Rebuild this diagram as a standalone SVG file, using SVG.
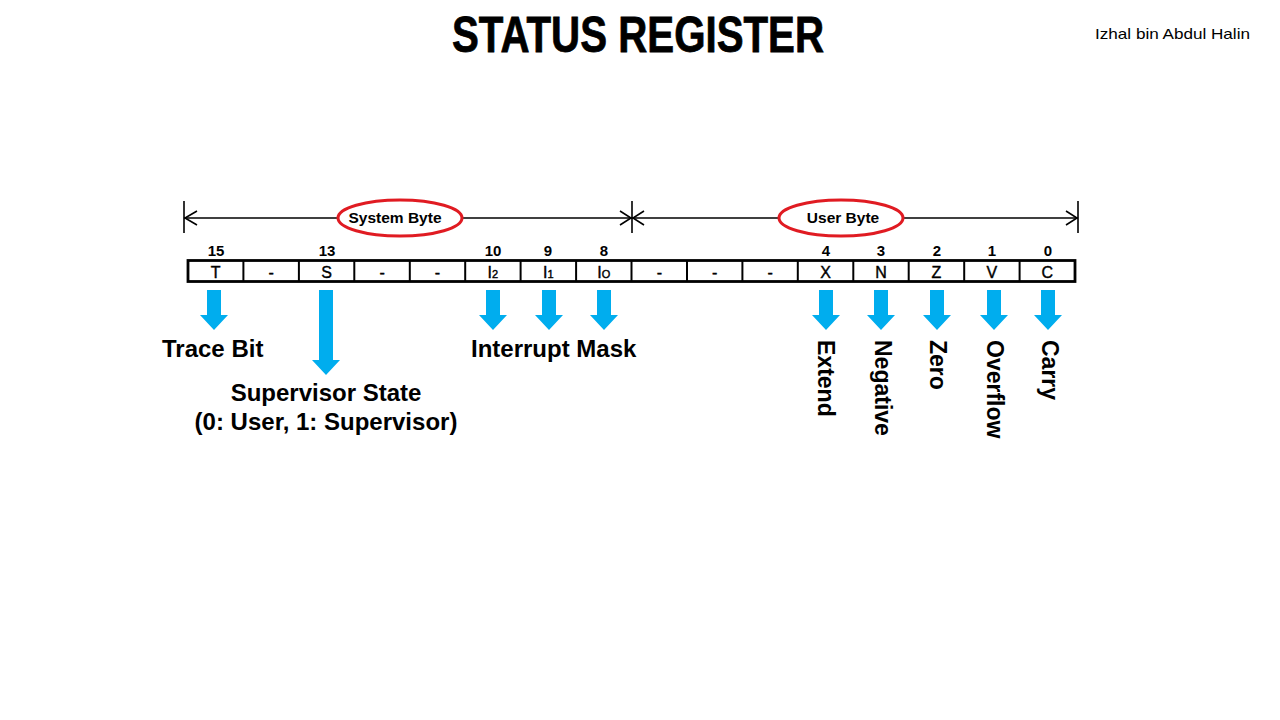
<svg xmlns="http://www.w3.org/2000/svg" width="1280" height="720" viewBox="0 0 1280 720">
<style>
.num{font-family:"Liberation Sans",Arial,sans-serif;font-weight:bold;font-size:15px;text-anchor:middle;fill:#000}
.cell{font-family:"Liberation Sans",Arial,sans-serif;font-size:16px;text-anchor:middle;fill:#000;stroke:#000;stroke-width:0.4}
.lbl{font-family:"Liberation Sans",Arial,sans-serif;font-weight:bold;font-size:24px;fill:#000}
.vlbl{font-family:"Liberation Sans",Arial,sans-serif;font-weight:bold;font-size:23px;fill:#000}
.byte{font-family:"Liberation Sans",Arial,sans-serif;font-weight:bold;font-size:15.5px;text-anchor:middle;fill:#000}
.oval{fill:#fff;stroke:#e01b22;stroke-width:3}
.blue{fill:#00adee}
.rng{stroke:#000;stroke-width:1.6;fill:none}
.sep{stroke:#000;stroke-width:2}
</style>
<defs>
<path id="shortArrow" d="M-7,0 H7 V25 H14 L0,40 L-14,25 H-7 Z"/>
<path id="longArrow" d="M-7,0 H7 V70 H14 L0,85 L-14,70 H-7 Z"/>
</defs>
<rect width="1280" height="720" fill="#fff"/>

<g id="title">
<text x="638" y="52" font-family="'Liberation Sans',Arial,sans-serif" font-weight="bold" font-size="50" text-anchor="middle" textLength="372" lengthAdjust="spacingAndGlyphs" stroke="#000" stroke-width="0.8">STATUS REGISTER</text>
</g>
<g id="author">
<text x="1095" y="39" font-family="'Liberation Sans',Arial,sans-serif" font-size="15" textLength="155" lengthAdjust="spacingAndGlyphs">Izhal bin Abdul Halin</text>
</g>

<g id="connectors">
<g id="byte-range" class="rng">
<line x1="184" y1="218" x2="1078" y2="218"/>
<line x1="184" y1="201" x2="184" y2="233"/>
<line x1="632" y1="201" x2="632" y2="233"/>
<line x1="1078" y1="201" x2="1078" y2="233"/>
<polyline points="197,211 185,218 197,225"/>
<polyline points="620,211 631,218 620,225"/>
<polyline points="644,211 633,218 644,225"/>
<polyline points="1066,211 1077,218 1066,225"/>
</g>
<g id="bit-arrows" class="blue">
<use href="#shortArrow" x="214" y="290"/>
<use href="#longArrow" x="326" y="290"/>
<use href="#shortArrow" x="493" y="290"/>
<use href="#shortArrow" x="549" y="290"/>
<use href="#shortArrow" x="604" y="290"/>
<use href="#shortArrow" x="826" y="290"/>
<use href="#shortArrow" x="881" y="290"/>
<use href="#shortArrow" x="937" y="290"/>
<use href="#shortArrow" x="994" y="290"/>
<use href="#shortArrow" x="1048" y="290"/>
</g>
</g>

<g id="system-byte">
<ellipse class="oval" cx="400" cy="218" rx="62" ry="18"/>
<text class="byte" x="395" y="223">System Byte</text>
</g>
<g id="user-byte">
<ellipse class="oval" cx="841" cy="218" rx="62" ry="18"/>
<text class="byte" x="843" y="223">User Byte</text>
</g>

<g id="bit-numbers">
<text class="num" x="216" y="256">15</text>
<text class="num" x="327" y="256">13</text>
<text class="num" x="493" y="256">10</text>
<text class="num" x="548" y="256">9</text>
<text class="num" x="604" y="256">8</text>
<text class="num" x="826" y="256">4</text>
<text class="num" x="881" y="256">3</text>
<text class="num" x="937" y="256">2</text>
<text class="num" x="992" y="256">1</text>
<text class="num" x="1048" y="256">0</text>
</g>

<g id="register">
<rect x="188" y="260.5" width="887" height="21" fill="#fff" stroke="#000" stroke-width="2.8"/>
<g class="sep">
<line x1="243.4" y1="260" x2="243.4" y2="282"/>
<line x1="298.9" y1="260" x2="298.9" y2="282"/>
<line x1="354.3" y1="260" x2="354.3" y2="282"/>
<line x1="409.8" y1="260" x2="409.8" y2="282"/>
<line x1="465.2" y1="260" x2="465.2" y2="282"/>
<line x1="520.6" y1="260" x2="520.6" y2="282"/>
<line x1="576.1" y1="260" x2="576.1" y2="282"/>
<line x1="631.5" y1="260" x2="631.5" y2="282"/>
<line x1="687" y1="260" x2="687" y2="282"/>
<line x1="742.4" y1="260" x2="742.4" y2="282"/>
<line x1="797.8" y1="260" x2="797.8" y2="282"/>
<line x1="853.3" y1="260" x2="853.3" y2="282"/>
<line x1="908.7" y1="260" x2="908.7" y2="282"/>
<line x1="964.2" y1="260" x2="964.2" y2="282"/>
<line x1="1019.6" y1="260" x2="1019.6" y2="282"/>
</g>
<text class="cell" x="215.7" y="278">T</text>
<text class="cell" x="271.2" y="278">-</text>
<text class="cell" x="326.6" y="278">S</text>
<text class="cell" x="382.1" y="278">-</text>
<text class="cell" x="437.5" y="278">-</text>
<text class="cell" x="492.9" y="278">I<tspan font-size="11">2</tspan></text>
<text class="cell" x="548.4" y="278">I<tspan font-size="11">1</tspan></text>
<text class="cell" x="603.8" y="278">I<tspan font-size="11">O</tspan></text>
<text class="cell" x="659.3" y="278">-</text>
<text class="cell" x="714.7" y="278">-</text>
<text class="cell" x="770.2" y="278">-</text>
<text class="cell" x="825.6" y="278">X</text>
<text class="cell" x="881.1" y="278">N</text>
<text class="cell" x="936.5" y="278">Z</text>
<text class="cell" x="991.9" y="278">V</text>
<text class="cell" x="1047.4" y="278">C</text>
</g>

<g id="trace-bit"><text class="lbl" x="162" y="357">Trace Bit</text></g>
<g id="supervisor-state">
<text class="lbl" x="326" y="401" text-anchor="middle">Supervisor State</text>
<text class="lbl" x="326" y="430" text-anchor="middle">(0: User, 1: Supervisor)</text>
</g>
<g id="interrupt-mask"><text class="lbl" x="471" y="357">Interrupt Mask</text></g>
<g id="extend"><text class="vlbl" transform="translate(817.5,340) rotate(90)">Extend</text></g>
<g id="negative"><text class="vlbl" transform="translate(874.5,340) rotate(90)">Negative</text></g>
<g id="zero"><text class="vlbl" transform="translate(929.5,340) rotate(90)">Zero</text></g>
<g id="overflow"><text class="vlbl" transform="translate(986.5,340) rotate(90)">Overflow</text></g>
<g id="carry"><text class="vlbl" transform="translate(1041.5,340) rotate(90)">Carry</text></g>
</svg>
